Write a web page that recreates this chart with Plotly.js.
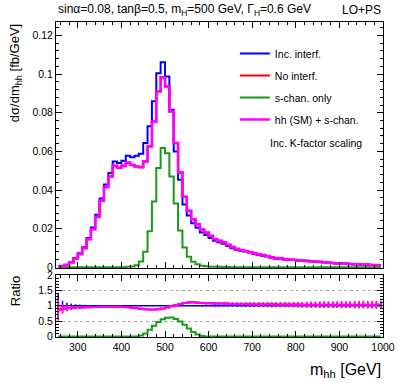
<!DOCTYPE html>
<html>
<head>
<meta charset="utf-8">
<script src="https://cdn.plot.ly/plotly-3.0.1.min.js"></script>
<style>html,body{margin:0;padding:0;background:#fff}#chart{width:399px;height:383px}</style>
</head>
<body>
<div id="chart"></div>
<script>
// binning: 10 GeV bins, 250 -> 1000 GeV
const binLow = 250, binWidth = 10, nBins = 75
const mhh = []
for (let i = 0; i < nBins; i++) mhh.push(binLow + binWidth * (i + 0.5))

// dsigma/dm_hh [fb/GeV]
const incInterf = [
	0.0004,0.0007,0.0013,0.0027,0.0048,0.0072,0.0103,0.0152,0.0206,0.0272,
	0.0356,0.0428,0.0488,0.0548,0.0540,0.0552,0.0578,0.0570,0.0578,0.0588,
	0.0643,0.0730,0.0859,0.1005,0.1062,0.0988,0.0816,0.0600,0.0453,0.0325,
	0.0268,0.0228,0.0204,0.0180,0.0167,0.0152,0.0137,0.0129,0.0122,0.0110,
	0.0099,0.0091,0.0085,0.0081,0.0076,0.0069,0.0064,0.0060,0.0056,0.0049,
	0.0044,0.0045,0.0040,0.0038,0.0037,0.0035,0.0034,0.0032,0.0030,0.0029,
	0.0027,0.0025,0.0023,0.0021,0.0019,0.0019,0.0018,0.0016,0.0015,0.0014,
	0.0013,0.0013,0.0012,0.0011,0.0010]
const noInterf = [
	0.0003,0.0006,0.0012,0.0025,0.0045,0.0068,0.0098,0.0145,0.0197,0.0260,
	0.0345,0.0415,0.0470,0.0525,0.0515,0.0525,0.0542,0.0530,0.0522,0.0518,
	0.0548,0.0626,0.0755,0.0910,0.0984,0.0936,0.0807,0.0643,0.0490,0.0365,
	0.0292,0.0248,0.0222,0.0195,0.0180,0.0163,0.0145,0.0137,0.0129,0.0116,
	0.0104,0.0095,0.0089,0.0084,0.0079,0.0072,0.0067,0.0063,0.0058,0.0051,
	0.0046,0.0047,0.0042,0.0040,0.0039,0.0036,0.0035,0.0033,0.0031,0.0030,
	0.0028,0.0026,0.0024,0.0022,0.0020,0.0020,0.0019,0.0017,0.0016,0.0015,
	0.0013,0.0014,0.0012,0.0011,0.0010]
const sChanOnly = [
	0,0,0,0,0,0,0,0,0,0,
	0,0,0,0,0,0,0.0002,0.0004,0.0010,0.0030,
	0.0080,0.0186,0.0340,0.0514,0.0617,0.0590,0.0470,0.0330,0.0190,0.0102,
	0.0054,0.0028,0.0016,0.0008,0.0005,0.0003,0.0002,0.0002,0.0001,0.0001,
	0,0,0,0,0,0,0,0,0,0,
	0,0,0,0,0,0,0,0,0,0,
	0,0,0,0,0,0,0,0,0,0,
	0,0,0,0,0]
const hhSMplusS = [
	0.0003,0.0006,0.0012,0.0025,0.0045,0.0068,0.0098,0.0145,0.0197,0.0260,
	0.0345,0.0415,0.0470,0.0525,0.0515,0.0525,0.0542,0.0530,0.0522,0.0518,
	0.0548,0.0626,0.0755,0.0910,0.0984,0.0936,0.0807,0.0643,0.0490,0.0365,
	0.0292,0.0248,0.0222,0.0195,0.0180,0.0163,0.0145,0.0137,0.0129,0.0116,
	0.0104,0.0095,0.0089,0.0084,0.0079,0.0072,0.0067,0.0063,0.0058,0.0051,
	0.0046,0.0047,0.0042,0.0040,0.0039,0.0036,0.0035,0.0033,0.0031,0.0030,
	0.0028,0.0026,0.0024,0.0022,0.0020,0.0020,0.0019,0.0017,0.0016,0.0015,
	0.0013,0.0014,0.0012,0.0011,0.0010]

// ratio to Inc. interf.
const ratioInc = [
	1,1,1,1,1,1,1,1,1,1, 1,1,1,1,1,1,1,1,1,1, 1,1,1,1,1,1,1,1,1,1,
	1,1,1,1,1,1,1,1,1,1, 1,1,1,1,1,1,1,1,1,1, 1,1,1,1,1,1,1,1,1,1,
	1,1,1,1,1,1,1,1,1,1, 1,1,1,1,1]
const errInc = [
	0.38,0.16,0.10,0.07,0.05,0.04,0.03,0.025,0.02,0.02,
	0.015,0.015,0.015,0.015,0.015,0.015,0.015,0.015,0.015,0.015,
	0.01,0.01,0.01,0.01,0.01,0.01,0.01,0.015,0.015,0.015,
	0.02,0.02,0.02,0.025,0.025,0.025,0.03,0.03,0.03,0.03,
	0.035,0.035,0.035,0.035,0.04,0.04,0.04,0.04,0.045,0.045,
	0.045,0.045,0.05,0.05,0.05,0.05,0.055,0.055,0.055,0.055,
	0.06,0.06,0.06,0.06,0.06,0.065,0.065,0.065,0.065,0.065,
	0.07,0.07,0.07,0.07,0.07]
const ratioHH = [
	0.87,0.90,0.92,0.93,0.94,0.945,0.95,0.955,0.96,0.96,
	0.965,0.97,0.97,0.97,0.965,0.96,0.95,0.935,0.92,0.905,
	0.89,0.88,0.88,0.89,0.91,0.94,0.98,1.02,1.06,1.09,
	1.105,1.11,1.10,1.09,1.085,1.08,1.075,1.07,1.07,1.065,
	1.06,1.06,1.055,1.055,1.05,1.05,1.05,1.045,1.045,1.045,
	1.04,1.04,1.04,1.04,1.04,1.04,1.035,1.035,1.035,1.035,
	1.035,1.035,1.035,1.035,1.035,1.035,1.035,1.035,1.035,1.035,
	1.035,1.035,1.035,1.035,1.035]
const errHH = [
	0.35,0.15,0.10,0.07,0.05,0.04,0.035,0.03,0.03,0.025,
	0.025,0.02,0.02,0.02,0.02,0.02,0.02,0.02,0.02,0.02,
	0.015,0.015,0.015,0.015,0.015,0.015,0.015,0.02,0.02,0.02,
	0.025,0.025,0.03,0.03,0.035,0.035,0.04,0.04,0.045,0.045,
	0.05,0.05,0.055,0.055,0.06,0.06,0.065,0.065,0.07,0.07,
	0.075,0.075,0.08,0.08,0.085,0.085,0.09,0.09,0.095,0.095,
	0.10,0.10,0.10,0.105,0.105,0.11,0.11,0.11,0.115,0.115,
	0.12,0.12,0.12,0.125,0.125]
const ratioS = [
	0,0,0,0,0,0,0,0,0,0,
	0,0,0,0,0,0,0,0,0,0.03,
	0.10,0.22,0.35,0.47,0.56,0.61,0.62,0.57,0.49,0.38,
	0.26,0.15,0.07,0.02,0,0,0,0,0,0,
	0,0,0,0,0,0,0,0,0,0,
	0,0,0,0,0,0,0,0,0,0,
	0,0,0,0,0,0,0,0,0,0,
	0,0,0,0,0]

const BLUE = '#0000ff', RED = '#ff0000', GREEN = '#1a9a1a', MAGENTA = '#ff00ff'
const FONT = 'Liberation Sans, Arial, sans-serif'

const hist = (y, name, color, width, extra) => Object.assign({
	x: mhh, y: y, name: name, type: 'scatter', mode: 'lines',
	line: {color: color, width: width, shape: 'hvh'},
	legendgroup: name, hoverinfo: 'skip'
}, extra || {})

const data = [
	hist(incInterf, 'Inc. interf.', BLUE, 2),
	hist(noInterf, 'No interf.', RED, 2),
	hist(sChanOnly, 's-chan. only', GREEN, 2),
	hist(hhSMplusS, 'hh (SM) + s-chan.', MAGENTA, 2.6),

	hist(ratioS, 'rS', GREEN, 2, {xaxis: 'x2', yaxis: 'y2', showlegend: false}),
	hist(ratioInc, 'rInc', BLUE, 1.5, {xaxis: 'x2', yaxis: 'y2', showlegend: false,
		error_y: {type: 'data', array: errInc, color: BLUE, thickness: 1.5, width: 0}}),
	hist(ratioHH, 'rNo', RED, 2, {xaxis: 'x2', yaxis: 'y2', showlegend: false,
		error_y: {type: 'data', array: errHH, color: RED, thickness: 1.5, width: 0}}),
	hist(ratioHH, 'rHH', MAGENTA, 2, {xaxis: 'x2', yaxis: 'y2', showlegend: false,
		error_y: {type: 'data', array: errHH, color: MAGENTA, thickness: 1.5, width: 0}})
]

const axisBase = {
	showline: true, linecolor: '#000', linewidth: 1, mirror: 'allticks',
	ticks: 'inside', ticklen: 6, tickcolor: '#000', tickwidth: 1,
	showgrid: false, zeroline: false,
	tickfont: {family: FONT, size: 10.5, color: '#000'}
}

const layout = {
	width: 399, height: 383,
	margin: {l: 56, r: 16, t: 22, b: 46},
	paper_bgcolor: '#fff', plot_bgcolor: '#fff',
	font: {family: FONT, color: '#000'},
	showlegend: true,
	legend: {x: 0.547, y: 0.946, xanchor: 'left', yanchor: 'top', bgcolor: 'rgba(0,0,0,0)',
		font: {family: FONT, size: 10.5}, tracegroupgap: 3, itemwidth: 30},
	xaxis: Object.assign({}, axisBase, {domain: [0, 1], anchor: 'y', range: [250, 1000],
		tick0: 0, dtick: 100, showticklabels: false,
		minor: {ticks: 'inside', ticklen: 3, dtick: 20, tickcolor: '#000'}}),
	yaxis: Object.assign({}, axisBase, {domain: [0.219, 1], anchor: 'x', range: [-0.0004, 0.127],
		tick0: 0, dtick: 0.02,
		minor: {ticks: 'inside', ticklen: 3, dtick: 0.004, tickcolor: '#000'}}),
	xaxis2: Object.assign({}, axisBase, {domain: [0, 1], anchor: 'y2', range: [250, 1000],
		tick0: 0, dtick: 100,
		minor: {ticks: 'inside', ticklen: 3, dtick: 20, tickcolor: '#000'}}),
	yaxis2: Object.assign({}, axisBase, {domain: [0, 0.197], anchor: 'x2', range: [-0.015, 2.0],
		tickvals: [0, 0.5, 1, 1.5, 2], ticktext: ['0', '0.5', '1', '1.5', '2'],
		showgrid: true, gridcolor: '#aaa', griddash: 'dot', gridwidth: 1,
		minor: {ticks: 'inside', ticklen: 3, dtick: 0.1, tickcolor: '#000', showgrid: false}}),
	annotations: [
		{text: 'sinα=0.08, tanβ=0.5, m<sub>H</sub>=500 GeV, Γ<sub>H</sub>=0.6 GeV', xref: 'paper', yref: 'paper',
			x: 0, y: 1.038, xanchor: 'left', yanchor: 'middle', showarrow: false, font: {size: 12}},
		{text: 'LO+PS', xref: 'paper', yref: 'paper', x: 1, y: 1.038, xanchor: 'right', yanchor: 'middle',
			showarrow: false, font: {size: 12}},
		{text: 'Inc. K-factor scaling', xref: 'paper', yref: 'paper', x: 0.648, y: 0.617,
			xanchor: 'left', yanchor: 'middle', showarrow: false, font: {size: 10.5}},
		{text: 'dσ/dm<sub>hh</sub> [fb/GeV]', xref: 'paper', yref: 'paper', x: -0.125, y: 0.838,
			xanchor: 'center', yanchor: 'middle', textangle: -90, showarrow: false, font: {size: 13}},
		{text: 'Ratio', xref: 'paper', yref: 'paper', x: -0.125, y: 0.146,
			xanchor: 'center', yanchor: 'middle', textangle: -90, showarrow: false, font: {size: 13}},
		{text: 'm<sub>hh</sub> [GeV]', xref: 'paper', yref: 'paper', x: 1, y: -0.105,
			xanchor: 'right', yanchor: 'middle', showarrow: false, font: {size: 16}}
	]
}

Plotly.newPlot('chart', data, layout, {displayModeBar: false, staticPlot: true})
</script>
</body>
</html>
